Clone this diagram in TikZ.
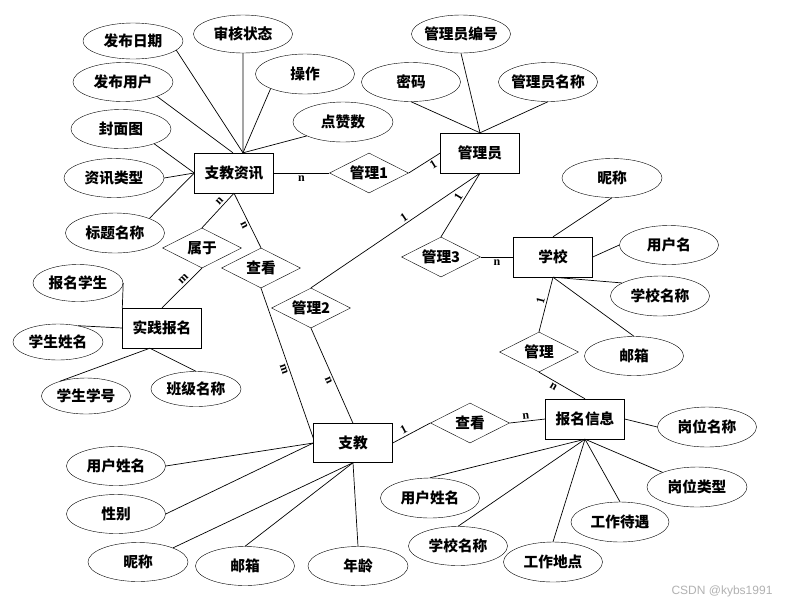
\documentclass[tikz,border=0pt]{standalone}
\usepackage{fontspec}
\setmainfont{Liberation Serif}
\newfontfamily\cjk{Noto Sans CJK SC}
\newfontfamily\wmfont{Liberation Sans}
\usetikzlibrary{shapes.geometric}
\begin{document}
\begin{tikzpicture}[x=1pt,y=-1pt,
  every node/.style={font=\cjk\bfseries\fontsize{14.7}{16}\selectfont},
  attr/.style={ellipse,draw,minimum width=99pt,minimum height=39pt,inner xsep=-8pt,inner ysep=0pt},
  ent/.style={rectangle,draw,minimum width=79pt,minimum height=40pt,inner sep=0pt},
  rel/.style={diamond,draw,aspect=2,minimum width=79pt,minimum height=40pt,inner sep=0pt},
  card/.style={font=\rmfamily\bfseries\fontsize{12}{12}\selectfont,sloped,inner sep=2pt},
  ln/.style={line width=0.7pt}]
\fill[white] (0,0) rectangle (800,606);
\useasboundingbox (0,0) rectangle (800,606);
% 支教资讯 and attributes
\node[attr,minimum width=100pt,minimum height=36pt] (fbrq) at (133,41) {发布日期};
\node[attr,minimum height=38pt] (shzt) at (243,34) {审核状态};
\node[attr,minimum height=40pt] (cz) at (305,74) {操作};
\node[attr,minimum width=100pt] (fbyh) at (123,82) {发布用户};
\node[attr,minimum width=100pt] (fmt) at (121,129) {封面图};
\node[attr,minimum width=100pt,minimum height=40pt] (dzs) at (343,122) {点赞数};
\node[attr,minimum width=100pt] (zxlx) at (114,178) {资讯类型};
\node[attr,minimum height=40pt] (btmc) at (115,233) {标题名称};
\node[ent] (zjzx) at (234,173) {支教资讯};
\node[rel] (gl1) at (369,173) {管理1};
% 管理员
\node[attr,minimum height=38pt] (glbh) at (461,34) {管理员编号};
\node[attr] (mm) at (411,82) {密码};
\node[attr] (glmc) at (548,82) {管理员名称};
\node[ent] (gly) at (480,153) {管理员};
\node[rel] (gl3) at (441,257) {管理3};
% 学校
\node[ent] (xx) at (553,257) {学校};
\node[attr,minimum width=100pt] (nc1) at (612,178) {昵称};
\node[attr] (yhm) at (669,245) {用户名};
\node[attr,minimum height=40pt] (xxmc1) at (660,296) {学校名称};
\node[attr] (yx1) at (634,356) {邮箱};
\node[rel] (gl) at (539,352) {管理};
% 报名信息
\node[ent] (bmxx) at (585,419) {报名信息};
\node[rel] (ck2) at (470,423) {查看};
\node[attr,minimum height=40pt] (gwmc) at (707,427) {岗位名称};
\node[attr,minimum width=100pt,minimum height=40pt] (gwlx) at (697,487) {岗位类型};
\node[attr,minimum width=98pt,minimum height=40pt] (gzdy) at (620,522) {工作待遇};
\node[attr,minimum height=40pt] (gzdd) at (553,562) {工作地点};
\node[attr] (xxmc2) at (458,546) {学校名称};
\node[attr,minimum height=40pt] (yhxm2) at (430,498) {用户姓名};
% 实践报名
\node[rel] (sy) at (202,248) {属于};
\node[rel] (ck1) at (261,268) {查看};
\node[rel] (gl2) at (311,308) {管理2};
\node[ent] (sjbm) at (162,328) {实践报名};
\node[attr,minimum width=90pt,minimum height=37pt] (bmxs) at (78,283) {报名学生};
\node[attr,minimum width=90pt,minimum height=36pt] (xsxm) at (58,342) {学生姓名};
\node[attr,minimum width=89pt,minimum height=36pt] (xsxh) at (86,396) {学生学号};
\node[attr,minimum width=90pt,minimum height=35pt] (bjmc) at (196,389) {班级名称};
% 支教
\node[ent,minimum height=39pt] (zj) at (353,443) {支教};
\node[attr] (yhxm1) at (116,466) {用户姓名};
\node[attr] (xb) at (116,514) {性别};
\node[attr,minimum width=100pt] (nc2) at (138,562) {昵称};
\node[attr] (yx2) at (245,566) {邮箱};
\node[attr,minimum width=100pt] (nl) at (358,566) {年龄};
% connectors
\draw[ln] (fbrq.-12) -- (zjzx.66);
\draw[ln] (shzt.south) -- (zjzx.66);
\draw[ln] (cz.203) -- (zjzx.66);
\draw[ln] (dzs.201) -- (zjzx.66);
\draw[ln] (fbyh.-23) -- (zjzx.93);
\draw[ln] (fmt.-24) -- (zjzx.west);
\draw[ln] (zxlx.east) -- (zjzx.west);
\draw[ln] (btmc.23) -- (zjzx.west);
\draw[ln] (zjzx.east) -- node[card,below,pos=0.5]{n} (gl1.west);
\draw[ln] (gl1.east) -- node[card,below,pos=0.67]{1} (gly.west);
\draw[ln] (glbh.south) -- (gly.north);
\draw[ln] (mm.south) -- (gly.north);
\draw[ln] (glmc.south) -- (gly.north);
\draw[ln] (gly.south) -- node[card,above,pos=0.42]{1} (gl3.north);
\draw[ln] (gly.south) -- node[card,above,pos=0.43]{1} (gl2.north);
\draw[ln] (gl3.east) -- node[card,below,pos=0.5]{n} (xx.west);
\draw[ln] (nc1.south) -- (xx.north);
\draw[ln] (yhm.west) -- (xx.east);
\draw[ln] (xxmc1.161) -- (xx.south);
\draw[ln] (yx1.north) -- (xx.south);
\draw[ln] (xx.south) -- node[card,above,pos=0.45]{1} (gl.north);
\draw[ln] (gl.south) -- node[card,below,pos=0.37]{n} (bmxx.north);
\draw[ln] (zj.east) -- node[card,above,pos=0.37]{1} (ck2.west);
\draw[ln] (ck2.east) -- node[card,above,pos=0.47]{n} (bmxx.west);
\draw[ln] (bmxx.east) -- (gwmc.west);
\draw[ln] (bmxx.south) -- (gwlx.157);
\draw[ln] (bmxx.south) -- (gzdy.north);
\draw[ln] (bmxx.south) -- (gzdd.north);
\draw[ln] (bmxx.south) -- (xxmc2.north);
\draw[ln] (bmxx.south) -- (yhxm2.north);
\draw[ln] (zjzx.south) -- node[card,above,pos=0.33]{n} (sy.north);
\draw[ln] (zjzx.south) -- node[card,below,pos=0.55]{n} (ck1.north);
\draw[ln] (sy.south) -- node[card,above,pos=0.375]{m} (sjbm.north);
\draw[ln] (bmxs.east) -- (sjbm.north west);
\draw[ln] (xsxm.39) -- (sjbm.west);
\draw[ln] (xsxh.150) -- (sjbm.239);
\draw[ln] (bjmc.north) -- (sjbm.239);
\draw[ln] (ck1.south) -- node[card,below,pos=0.53]{m} (zj.173);
\draw[ln] (gl2.south) -- node[card,below,pos=0.53]{n} (zj.north);
\draw[ln] (yhxm1.east) -- (zj.west);
\draw[ln] (xb.east) -- (zj.west);
\draw[ln] (nc2.22) -- (zj.south);
\draw[ln] (yx2.north) -- (zj.south);
\draw[ln] (nl.north) -- (zj.south);
% watermark
\node[font=\wmfont\fontsize{12}{12}\selectfont,text=black!30] (wm) at (722,591) {CSDN @kybs1991};
\end{tikzpicture}
\end{document}
